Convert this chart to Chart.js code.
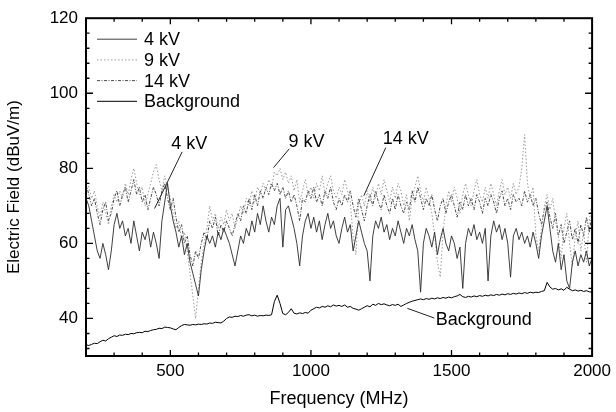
<!DOCTYPE html>
<html>
<head>
<meta charset="utf-8">
<script src="https://cdn.jsdelivr.net/npm/chart.js@4.4.1/dist/chart.umd.min.js"></script>
<style>
  html, body { margin: 0; padding: 0; background: #fff; }
  #wrap { width: 616px; height: 412px; }
</style>
</head>
<body>
<div id="wrap"><canvas id="fieldChart"></canvas></div>
<script>

// frequency (MHz), 10 MHz apart
const frequencies = [
    200, 210, 220, 230, 240, 250, 260, 270, 280, 290,
    300, 310, 320, 330, 340, 350, 360, 370, 380, 390,
    400, 410, 420, 430, 440, 450, 460, 470, 480, 490,
    500, 510, 520, 530, 540, 550, 560, 570, 580, 590,
    600, 610, 620, 630, 640, 650, 660, 670, 680, 690,
    700, 710, 720, 730, 740, 750, 760, 770, 780, 790,
    800, 810, 820, 830, 840, 850, 860, 870, 880, 890,
    900, 910, 920, 930, 940, 950, 960, 970, 980, 990,
    1000, 1010, 1020, 1030, 1040, 1050, 1060, 1070, 1080, 1090,
    1100, 1110, 1120, 1130, 1140, 1150, 1160, 1170, 1180, 1190,
    1200, 1210, 1220, 1230, 1240, 1250, 1260, 1270, 1280, 1290,
    1300, 1310, 1320, 1330, 1340, 1350, 1360, 1370, 1380, 1390,
    1400, 1410, 1420, 1430, 1440, 1450, 1460, 1470, 1480, 1490,
    1500, 1510, 1520, 1530, 1540, 1550, 1560, 1570, 1580, 1590,
    1600, 1610, 1620, 1630, 1640, 1650, 1660, 1670, 1680, 1690,
    1700, 1710, 1720, 1730, 1740, 1750, 1760, 1770, 1780, 1790,
    1800, 1810, 1820, 1830, 1840, 1850, 1860, 1870, 1880, 1890,
    1900, 1910, 1920, 1930, 1940, 1950, 1960, 1970, 1980, 1990,
    2000
];

// electric field (dBuV/m)
const field4kV = [
    72, 70, 66, 62, 58, 56, 60, 57, 53, 58,
    65, 68, 64, 66, 62, 64, 60, 66, 62, 58,
    63, 61, 64, 59, 63, 60, 56, 66, 71, 76,
    70, 66, 63, 59, 62, 57, 60, 55, 52, 49,
    46, 53, 58, 62, 60, 62, 59, 63, 61, 64,
    62, 60, 57, 54, 58, 62, 60, 64, 62, 66,
    63, 68, 65, 70, 66, 63, 67, 65, 70, 72,
    59, 69, 70, 67, 64, 60, 54, 62, 66, 68,
    64, 67, 63, 66, 61, 65, 68, 64, 66, 62,
    60, 64, 67, 63, 65, 58, 62, 66, 63, 60,
    58, 50, 62, 66, 64, 67, 63, 65, 61, 64,
    62, 66, 63, 60, 64, 62, 65, 61, 58, 47,
    60, 64, 62, 59, 63, 57, 61, 64, 60, 58,
    62, 60, 56, 59, 48, 60, 64, 62, 65, 61,
    63, 60, 64, 50, 62, 66, 63, 65, 61, 64,
    60, 51, 62, 64, 61, 63, 60, 62, 59, 63,
    60, 56, 62, 66, 70, 64, 58, 55, 60, 53,
    57, 50, 48, 55, 58, 54, 57, 55, 58, 54,
    56
];

const field9kV = [
    78, 75, 72, 74, 70, 67, 71, 68, 65, 70,
    73, 71, 74, 72, 76, 73, 77, 80, 76, 73,
    75, 70, 73, 76, 79, 81, 77, 74, 78, 75,
    72, 68, 64, 66, 61, 63, 58, 52, 46, 40,
    48, 55, 60, 64, 70, 66, 68, 64, 67, 65,
    69, 66, 68, 64, 67, 70, 68, 72, 70, 74,
    71, 75, 73, 76, 74, 77, 75, 79, 78, 80,
    77, 79, 76, 78, 74, 77, 71, 74, 77, 73,
    75, 72, 76, 74, 78, 73, 76, 78, 74, 72,
    75, 73, 77, 74, 71, 62, 57, 70, 73, 70,
    74, 71, 75, 72, 76, 73, 77, 74, 71, 75,
    72, 76, 74, 70, 73, 66, 72, 75, 78, 74,
    71, 75, 72, 68, 62, 55, 51, 63, 70, 74,
    71, 75, 72, 68, 73, 76, 73, 70, 74, 77,
    73, 71, 75, 72, 76, 73, 70, 74, 77, 73,
    75, 72, 76, 73, 75, 80, 89, 76, 72, 75,
    62, 58, 64, 70, 73, 69, 72, 66, 62, 56,
    64, 68, 60, 54, 62, 66, 58, 63, 55, 66,
    71
];

const field14kV = [
    76, 73, 70, 72, 68, 65, 69, 71, 66, 68,
    72, 74, 70, 73, 75, 71, 74, 77, 73, 75,
    71, 73, 69, 72, 75, 73, 70, 74, 76, 72,
    69, 72, 67, 63, 65, 60, 62, 57, 54, 58,
    56, 60, 63, 61, 66, 64, 67, 62, 65, 63,
    66, 64, 62, 65, 68, 66, 70, 68, 72, 69,
    73, 70, 74, 72, 75, 73, 76, 74, 76, 73,
    75, 72, 74, 71, 73, 70, 66, 72, 71, 74,
    72, 75, 71, 73, 70, 74, 72, 75, 71, 69,
    72, 70, 73, 71, 74, 70, 67, 72, 69, 66,
    70, 73, 70, 74, 71, 69, 73, 70, 68, 72,
    69, 73, 70, 68, 71, 69, 74, 71, 75, 72,
    69, 72, 70, 73, 69, 66, 70, 72, 68, 71,
    73, 70, 67, 71, 69, 73, 70, 72, 69, 73,
    71, 68, 72, 70, 73, 71, 68, 72, 74, 70,
    72, 69, 73, 71, 72, 70, 74, 71, 73, 70,
    72, 68, 65, 69, 71, 67, 64, 68, 62, 65,
    60, 63, 66, 61, 64, 60, 65, 62, 67, 63,
    68
];

const fieldBackground = [
    33.0, 32.8, 33.1, 33.4, 33.3, 33.8, 34.2, 34.0, 34.6, 35.0,
    35.4, 35.2, 35.6, 35.5, 35.8, 35.7, 36.0, 35.9, 36.2, 36.3,
    36.2, 36.6, 36.5, 36.8, 37.0, 37.1, 37.4, 37.3, 37.7, 37.6,
    37.5, 37.2, 37.0, 37.6, 38.1, 38.4, 38.3, 38.2, 38.4, 38.3,
    38.5, 38.4, 38.6, 38.5, 38.8, 38.7, 39.0, 38.9, 38.8, 39.3,
    40.0, 40.4, 40.3, 40.6, 40.5, 40.8, 40.6, 40.9, 41.0, 40.7,
    40.9, 40.6, 40.8, 40.7, 40.9, 40.8, 41.0, 44.5, 46.2, 44.0,
    41.3, 41.0, 41.6, 42.6, 41.4, 41.2, 41.5, 41.3, 41.6, 41.4,
    42.2, 42.6, 43.0, 42.8, 43.2, 43.0, 43.4, 43.1, 43.6, 43.3,
    43.5, 43.2, 43.6, 43.0, 43.2, 42.7, 42.5, 42.2, 42.6, 43.0,
    43.4, 43.1, 43.8, 43.5, 44.0, 43.7, 43.9, 43.6, 43.4, 43.7,
    43.5, 43.8, 43.2, 43.6, 44.0, 44.3, 44.6, 44.8, 45.0, 45.2,
    45.0, 45.3, 45.1, 45.4, 45.2, 45.5, 45.3, 45.6, 45.4, 45.7,
    45.5, 45.8, 46.0, 46.4, 45.8, 45.6, 45.9, 45.7, 46.0, 45.8,
    46.1, 45.9, 46.2, 46.0, 46.3, 46.1, 46.4, 46.2, 46.5, 46.3,
    46.6, 46.4, 46.7, 46.5, 46.8, 46.6, 46.9, 46.7, 47.0, 46.8,
    47.0, 46.9, 47.2, 47.4, 49.6, 48.4, 47.8, 48.0, 47.6, 47.9,
    47.5, 48.3, 47.8, 47.4, 47.6, 47.3, 47.5, 47.2, 47.4, 47.1,
    47.0
];

const seriesLabels = ["4 kV", "9 kV", "14 kV", "Background"];

const xTickValues = [500, 1000, 1500, 2000];
const yTickValues = [40, 60, 80, 100, 120];

// text labels with their pointer lines, in data units (MHz, dBuV/m)
const callouts = [
    { text: "4 kV", at: [567, 86.5], from: [542, 84.4], to: [444, 69.3] },
    { text: "9 kV", at: [984, 87.1], from: [923, 85.2], to: [867, 80.2] },
    { text: "14 kV", at: [1337, 87.9], from: [1266, 85.5], to: [1188, 72.7] },
    { text: "Background", at: [1615, 39.6], from: [1343, 42.7], to: [1439, 40.1] }
];


const fontFamily = '"Liberation Sans", Arial, Helvetica, sans-serif';

const toPoints = (values) => frequencies.map((f, i) => ({ x: f, y: values[i] }));


// frame with inward ticks, legend inside the plot, callout labels
const framePlugin = {

    id: "framePlugin",

    afterDatasetsDraw(chart) {

        const { ctx, chartArea: area, scales: { x, y } } = chart;

        ctx.save();

        ctx.strokeStyle = "#000";
        ctx.lineWidth = 2;
        ctx.strokeRect(area.left, area.top, area.width, area.height);

        ctx.lineWidth = 1.3;
        ctx.beginPath();

        for (let f = x.min + 100; f < x.max; f += 100) {
            const px = x.getPixelForValue(f);
            const len = xTickValues.includes(f) ? 6 : 3.5;
            ctx.moveTo(px, area.bottom);
            ctx.lineTo(px, area.bottom - len);
            ctx.moveTo(px, area.top);
            ctx.lineTo(px, area.top + len);
        }

        for (let v = 32; v < y.max; v += 4) {
            const py = y.getPixelForValue(v);
            const len = yTickValues.includes(v) ? 7 : 3.5;
            ctx.moveTo(area.left, py);
            ctx.lineTo(area.left + len, py);
            ctx.moveTo(area.right, py);
            ctx.lineTo(area.right - len, py);
        }

        ctx.stroke();

        // legend
        ctx.font = `18px ${fontFamily}`;
        ctx.textBaseline = "middle";
        ctx.textAlign = "left";

        chart.data.datasets.forEach((ds, i) => {

            const cy = area.top + 21 + i * 20.7;

            ctx.setLineDash(ds.borderDash || []);
            ctx.strokeStyle = ds.borderColor;
            ctx.lineWidth = ds.borderWidth;
            ctx.beginPath();
            ctx.moveTo(area.left + 11, cy);
            ctx.lineTo(area.left + 51, cy);
            ctx.stroke();

            ctx.setLineDash([]);
            ctx.fillStyle = "#000";
            ctx.fillText(ds.label, area.left + 58, cy + 1);

        });

        // callouts
        ctx.strokeStyle = "#222";
        ctx.lineWidth = 1;
        ctx.textAlign = "center";

        for (const c of callouts) {

            ctx.beginPath();
            ctx.moveTo(x.getPixelForValue(c.from[0]), y.getPixelForValue(c.from[1]));
            ctx.lineTo(x.getPixelForValue(c.to[0]), y.getPixelForValue(c.to[1]));
            ctx.stroke();

            ctx.fillText(c.text, x.getPixelForValue(c.at[0]), y.getPixelForValue(c.at[1]));

        }

        ctx.restore();

    }

};


Chart.defaults.font.family = fontFamily;
Chart.defaults.color = "#000";

new Chart(
    document.getElementById("fieldChart"), {
        type: "line",
        data: {
            datasets: [
                {
                    label: seriesLabels[0],
                    data: toPoints(field4kV),
                    borderColor: "#2a2a2a",
                    borderWidth: 0.9,
                    borderDash: []
                },
                {
                    label: seriesLabels[1],
                    data: toPoints(field9kV),
                    borderColor: "#9a9a9a",
                    borderWidth: 1,
                    borderDash: [1.5, 2]
                },
                {
                    label: seriesLabels[2],
                    data: toPoints(field14kV),
                    borderColor: "#4a4a4a",
                    borderWidth: 1,
                    borderDash: [3, 1.5, 1, 1.5]
                },
                {
                    label: seriesLabels[3],
                    data: toPoints(fieldBackground),
                    borderColor: "#000",
                    borderWidth: 1,
                    borderDash: []
                }
            ]
        },
        options: {
            animation: false,
            responsive: true,
            maintainAspectRatio: false,
            layout: {
                padding: { top: 17, right: 20, bottom: 0, left: 0 }
            },
            elements: {
                point: { radius: 0 },
                line: { tension: 0 }
            },
            plugins: {
                legend: { display: false },
                tooltip: { enabled: false }
            },
            scales: {
                x: {
                    type: "linear",
                    min: 200,
                    max: 2000,
                    afterBuildTicks: (scale) => { scale.ticks = xTickValues.map(v => ({ value: v })); },
                    afterFit: (scale) => { scale.height = 56; },
                    grid: { display: false, drawTicks: false },
                    border: { display: false },
                    ticks: {
                        padding: 5,
                        maxRotation: 0,
                        autoSkip: false,
                        font: { size: 17 },
                        callback: (v) => String(v)
                    },
                    title: {
                        display: true,
                        text: "Frequency (MHz)",
                        font: { size: 18 },
                        padding: { top: 0, bottom: 2 }
                    }
                },
                y: {
                    type: "linear",
                    min: 30,
                    max: 120,
                    afterBuildTicks: (scale) => { scale.ticks = yTickValues.map(v => ({ value: v })); },
                    afterFit: (scale) => { scale.width = 86; },
                    grid: { display: false, drawTicks: false },
                    border: { display: false },
                    ticks: {
                        padding: 8,
                        font: { size: 17 },
                        callback: (v) => String(v)
                    },
                    title: {
                        display: true,
                        text: "Electric Field (dBuV/m)",
                        font: { size: 17 },
                        padding: { top: 4, bottom: 0 }
                    }
                }
            }
        },
        plugins: [framePlugin]
    }
);

</script>
</body>
</html>
